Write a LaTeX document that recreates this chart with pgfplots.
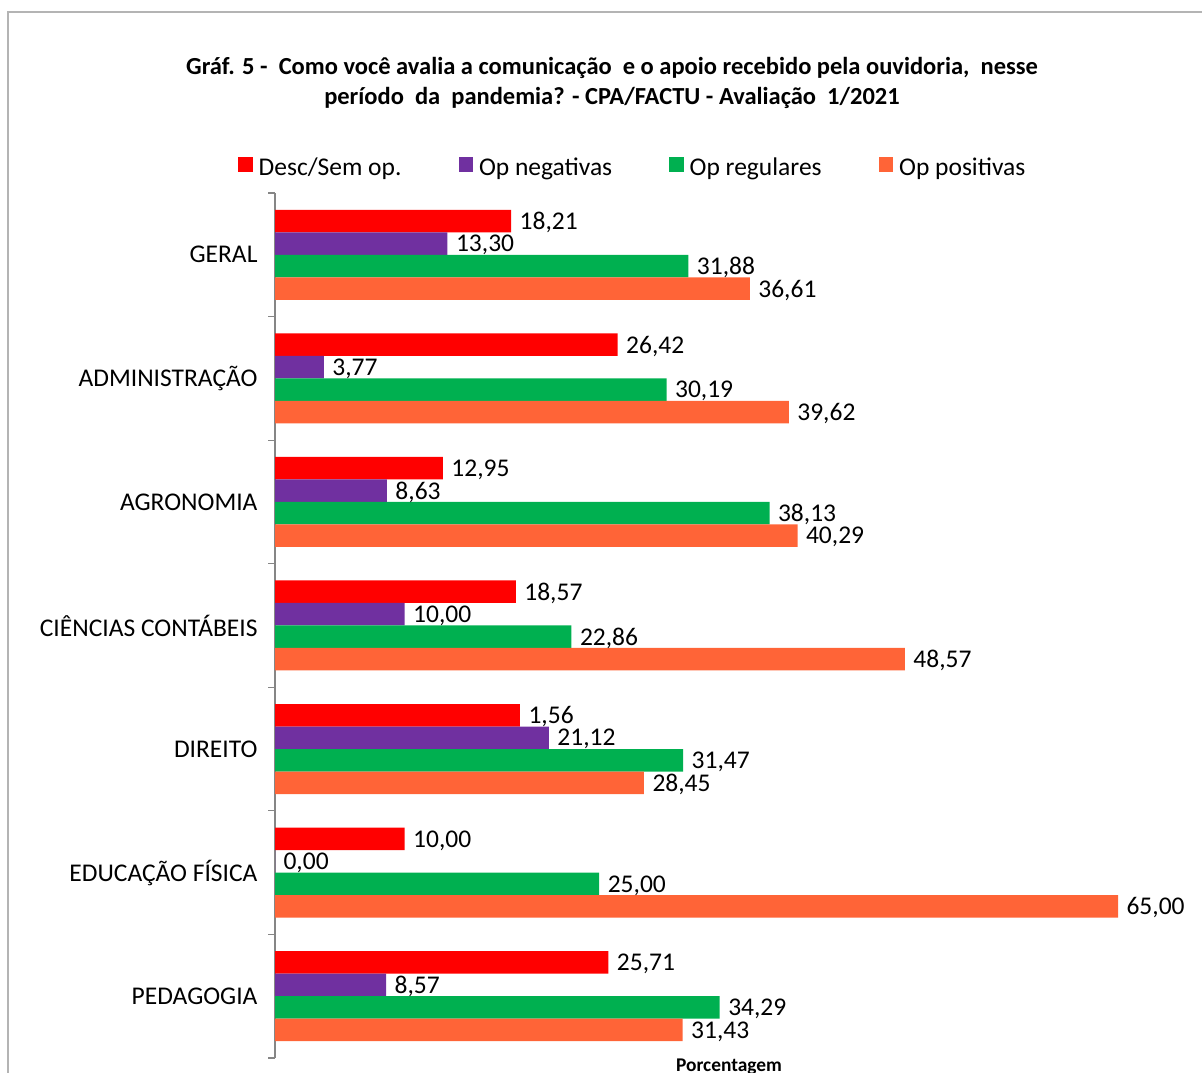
\documentclass[border=0pt]{standalone}
\usepackage{fontspec}
\setmainfont{Carlito}
\usepackage{pgfplots}
\pgfplotsset{compat=1.18}
\usepackage{pgfplotstable}
\definecolor{cRed}{HTML}{FF0000}
\definecolor{cPur}{HTML}{7030A0}
\definecolor{cGrn}{HTML}{00B050}
\definecolor{cOrg}{HTML}{FF6437}
\definecolor{frameg}{HTML}{B4B4B4}
\definecolor{axgray}{HTML}{868686}

\pgfplotstableread{
y x lab
6 18.21 18,21
5 26.42 26,42
4 12.95 12,95
3 18.57 18,57
2 18.89 1,56
1 10.00 10,00
0 25.71 25,71
}\tRed
\pgfplotstableread{
y x lab
6 13.30 13,30
5 3.77 3,77
4 8.63 8,63
3 10.00 10,00
2 21.12 21,12
1 0.00 0,00
0 8.57 8,57
}\tPur
\pgfplotstableread{
y x lab
6 31.88 31,88
5 30.19 30,19
4 38.13 38,13
3 22.86 22,86
2 31.47 31,47
1 25.00 25,00
0 34.29 34,29
}\tGrn
\pgfplotstableread{
y x lab
6 36.61 36,61
5 39.62 39,62
4 40.29 40,29
3 48.57 48,57
2 28.45 28,45
1 65.00 65,00
0 31.43 31,43
}\tOrg

\begin{document}
\begin{tikzpicture}[font=\fontsize{25.5}{30}\selectfont]
\path[use as bounding box] (0,0) rectangle (1202pt,1073pt);
\draw[frameg, line width=1.5pt] (8pt,-2pt) -- (8pt,1061pt) -- (1210pt,1061pt);
\node[font=\fontsize{24.5}{30}\selectfont\bfseries, align=center] at (612pt,990pt) {Gráf. 5 - \ Como você avalia a comunicação \ e o apoio recebido pela ouvidoria, \ nesse\\ período \ da \ pandemia? - CPA/FACTU - Avaliação \ 1/2021};
\begin{axis}[
  at={(275pt,15pt)}, anchor=south west,
  scale only axis, width=843pt, height=865pt,
  xmin=0, xmax=65, ymin=-0.5, ymax=6.5,
  xbar, bar width=22.5pt,
  axis x line=none, axis y line*=left,
  y axis line style={axgray, line width=1.2pt, -},
  ytick={0,...,6},
  yticklabels={PEDAGOGIA, EDUCAÇÃO FÍSICA, DIREITO, CIÊNCIAS CONTÁBEIS, AGRONOMIA, ADMINISTRAÇÃO, GERAL},
  major tick length=0pt,
  minor ytick={-0.5,0.5,...,6.5},
  minor tick length=7pt,
  tick align=outside,
  minor tick style={axgray, line width=1.2pt},
  yticklabel style={xshift=-14pt},
  clip=false,
  nodes near coords, point meta=explicit symbolic,
  nodes near coords style={anchor=west, xshift=5pt, yshift=-1.5pt, text=black},
  legend columns=4,
  legend style={at={(axis description cs:-0.04389,1.0302)}, anchor=west, draw=none, fill=none, inner sep=0pt, nodes={inner sep=0pt}, /tikz/every odd column/.append style={column sep=6pt}, /tikz/every even column/.append style={column sep=57pt}},
  legend image code/.code={\fill[#1] (0pt,-4.5pt) rectangle (14.5pt,10pt);},
]
\addplot[draw=none, fill=cRed, bar shift=33.75pt] table[x=x,y=y,meta=lab]{\tRed};
\addplot[draw=none, fill=cPur, bar shift=11.25pt] table[x=x,y=y,meta=lab]{\tPur};
\addplot[draw=none, fill=cGrn, bar shift=-11.25pt] table[x=x,y=y,meta=lab]{\tGrn};
\addplot[draw=none, fill=cOrg, bar shift=-33.75pt] table[x=x,y=y,meta=lab]{\tOrg};
\legend{Desc/Sem op., Op negativas, Op regulares, Op positivas}
\end{axis}
\node[font=\fontsize{19.4}{22}\selectfont\bfseries, anchor=base] at (729pt,1pt) {Porcentagem};
\end{tikzpicture}
\end{document}
